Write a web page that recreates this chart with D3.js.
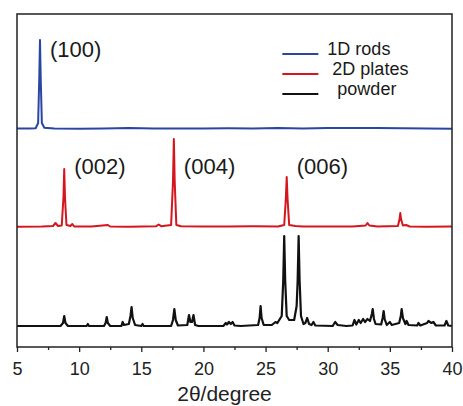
<!DOCTYPE html>
<html>
<head>
<meta charset="utf-8">
<script src="https://cdn.jsdelivr.net/npm/d3@7"></script>
<style>
  html, body { margin: 0; padding: 0; background: #fff; }
  text { font-family: "Liberation Sans", Arial, sans-serif; }
</style>
</head>
<body>
<div id="xrdChart"></div>
<script>
// 2theta (deg) vs intensity (a.u.)
const rods = [
  [5, 0.5], [6, 0.6], [6.5, 0.8], [6.7, 6], [6.79, 50], [6.85, 89], [6.91, 50], [7.0, 6], [7.2, 1.2],
  [8, 0.6], [10, 0.3], [12, 0.6], [14, 0.9], [16, 0.4], [18, 0.6], [20, 0.5], [22, 0.7],
  [24, 0.6], [26, 0.9], [28, 0.6], [30, 1.0], [32, 1.1], [34, 0.9], [36, 0.7], [38, 0.4], [40, 0.3]
];

const plates = [
  [5, 0.3], [7, 0.6], [7.9, 1], [8.1, 4], [8.3, 1], [8.6, 1.5], [8.74, 30], [8.8, 58], [8.86, 30],
  [8.98, 2], [9.3, 1], [9.45, 3], [9.6, 0.5], [11, 0.5], [12.3, 2], [12.5, 0.5], [14, 0.3],
  [16.2, 0.8], [16.4, 2.5], [16.6, 0.8], [17.4, 2], [17.55, 45], [17.62, 88], [17.69, 45],
  [17.82, 2], [18.2, 0.8], [20, 0.5], [22, 0.6], [24, 0.8], [26, 0.5], [26.5, 2], [26.63, 28],
  [26.7, 50], [26.77, 28], [26.9, 2], [27.4, 1], [28, 0.5], [30, 0.5], [32, 0.5], [33.05, 1.5],
  [33.2, 4], [33.35, 1.5], [34, 0.4], [35.65, 1], [35.78, 8], [35.84, 14], [35.9, 8], [36.05, 1.5],
  [36.3, 2], [36.6, 0.5], [38, 0.3], [40, 0.5]
];

const powder = [
  [5, 0], [8.5, 0], [8.7, 3], [8.8, 10], [8.9, 3], [9.1, 0], [10.6, 0], [10.7, 2], [10.8, 0],
  [12.0, 0], [12.13, 3], [12.22, 9], [12.31, 3], [12.5, 0], [13.4, 0], [13.5, 4], [13.6, 1],
  [14.0, 2], [14.13, 10], [14.22, 19], [14.31, 8], [14.5, 1], [15.0, 0], [15.1, 2], [15.2, 0],
  [17.4, 0], [17.55, 6], [17.66, 17], [17.77, 6], [17.95, 0.5], [18.7, 1], [18.84, 11],
  [18.95, 4], [19.08, 4], [19.2, 11], [19.33, 1], [19.6, 0], [21.6, 0], [21.8, 3], [21.9, 1.5],
  [22.05, 4], [22.2, 2], [22.35, 4], [22.5, 0.5], [23, 0], [24.4, 1], [24.52, 8], [24.6, 20],
  [24.68, 8], [24.85, 1], [25.5, 1], [25.8, 4], [25.95, 3], [26.15, 7], [26.3, 10], [26.42, 45],
  [26.5, 90], [26.58, 45], [26.7, 10], [26.9, 6], [27.3, 6], [27.5, 20], [27.58, 45], [27.66, 90],
  [27.74, 45], [27.85, 10], [28.05, 2], [28.2, 3], [28.35, 8], [28.5, 2], [28.7, 1], [28.85, 4],
  [29.0, 0.5], [30.4, 0], [30.6, 4], [30.8, 1], [31.5, 0], [32.0, 0.5], [32.15, 6], [32.3, 1.5],
  [32.5, 6], [32.65, 3], [32.85, 7], [33.0, 4], [33.2, 7], [33.4, 5], [33.55, 12], [33.62, 17],
  [33.72, 7], [33.85, 2], [34.3, 1.5], [34.42, 8], [34.5, 15], [34.58, 7], [34.75, 1], [35.0, 4],
  [35.15, 1], [35.75, 3], [35.88, 10], [35.95, 17], [36.05, 8], [36.25, 2], [36.35, 5], [36.5, 1],
  [37.2, 0.5], [37.3, 3], [37.45, 0.5], [38.0, 3], [38.1, 5], [38.35, 3], [38.5, 4], [38.7, 0.5],
  [39.4, 0.5], [39.55, 5], [39.7, 0.5], [40, 0]
];

const seriesNames = ['rods', 'plates', 'powder'];
const legendLabels = ['1D rods', ' 2D plates', '  powder'];
const peakLabels = ['(100)', '(002)', '(004)', '(006)'];
const peakPositions = [6.85, 8.8, 17.62, 26.7];
const peakSeries = ['rods', 'plates', 'plates', 'plates'];
const xTicks = [5, 10, 15, 20, 25, 30, 35, 40];

const AREA_WIDTH = 463;
const AREA_HEIGHT = 406;
const MARGIN = { TOP: 14, RIGHT: 11, BOTTOM: 59, LEFT: 17 };
const WIDTH = AREA_WIDTH - MARGIN.LEFT - MARGIN.RIGHT;
const HEIGHT = AREA_HEIGHT - MARGIN.TOP - MARGIN.BOTTOM;

// vertical stacking of the patterns and label heights, in intensity units
const OFFSET = { rods: 218, plates: 120, powder: 21 };
const LABEL_LIFT = { rods: 72, plates: 53 };
const COLOR = { rods: '#2a46a0', plates: '#d5161e', powder: '#111111' };
const WIDTHS = { rods: 2, plates: 2, powder: 2.2 };
const DATA = { rods, plates, powder };

const svg = d3.select('#xrdChart')
              .append('svg')
              .attr('width', AREA_WIDTH)
              .attr('height', AREA_HEIGHT)
              .append('g')
              .attr('transform', `translate(${MARGIN.LEFT},${MARGIN.TOP})`);

const x = d3.scaleLinear()
              .domain([5, 40])
              .range([0, WIDTH]);

const y = d3.scaleLinear()
              .domain([0, HEIGHT])
              .range([HEIGHT, 0]);

const line = d3.line()
                 .x(d => x(d[0]))
                 .y(d => y(d[1]));

seriesNames.forEach(name => {
  svg.append('path')
       .datum(DATA[name].map(d => [d[0], d[1] + OFFSET[name]]))
       .attr('fill', 'none')
       .attr('stroke', COLOR[name])
       .attr('stroke-width', WIDTHS[name])
       .attr('stroke-linejoin', 'round')
       .attr('d', line);
});

// minor ticks
svg.append('g')
     .attr('transform', `translate(0, ${HEIGHT})`)
     .call(d3.axisBottom(x).tickValues(d3.range(7.5, 40, 5)).tickSize(3).tickFormat(''))
     .call(g => g.select('.domain').remove())
     .call(g => g.selectAll('line').attr('stroke', '#222').attr('stroke-width', 1.3));

const xAxis = svg.append('g')
     .attr('transform', `translate(0, ${HEIGHT})`)
     .call(d3.axisBottom(x).tickValues(xTicks).tickSize(5).tickPadding(10).tickFormat(d3.format('d')));
xAxis.select('.domain').remove();
xAxis.selectAll('line').attr('stroke', '#222').attr('stroke-width', 1.3);
xAxis.selectAll('text')
       .attr('fill', '#222')
       .style('font-size', '18px')
       .style('font-family', '"Liberation Sans", Arial, sans-serif');

svg.append('rect')
     .attr('width', WIDTH)
     .attr('height', HEIGHT)
     .attr('fill', 'none')
     .attr('stroke', '#222')
     .attr('stroke-width', 1.5);

svg.append('text')
     .attr('x', WIDTH / 2 - 10)
     .attr('y', HEIGHT + 54)
     .attr('text-anchor', 'middle')
     .attr('fill', '#222')
     .style('font-size', '21px')
     .text('2θ/degree');

peakLabels.forEach((label, i) => {
  const s = peakSeries[i];
  svg.append('text')
       .attr('x', x(peakPositions[i]) + 10)
       .attr('y', y(OFFSET[s] + LABEL_LIFT[s]))
       .attr('fill', '#1a1a1a')
       .style('font-size', '22px')
       .text(label);
});

const legend = svg.append('g')
                    .attr('transform', `translate(${x(26.35)}, ${y(293)})`);
seriesNames.forEach((name, i) => {
  legend.append('line')
          .attr('x1', 0)
          .attr('x2', 36)
          .attr('y1', i * 20)
          .attr('y2', i * 20)
          .attr('stroke', COLOR[name])
          .attr('stroke-width', 2);
  legend.append('text')
          .attr('x', 45)
          .attr('y', i * 20 + 1)
          .attr('fill', '#1a1a1a')
          .style('font-size', '18px')
          .style('white-space', 'pre')
          .text(legendLabels[i]);
});
</script>
</body>
</html>
